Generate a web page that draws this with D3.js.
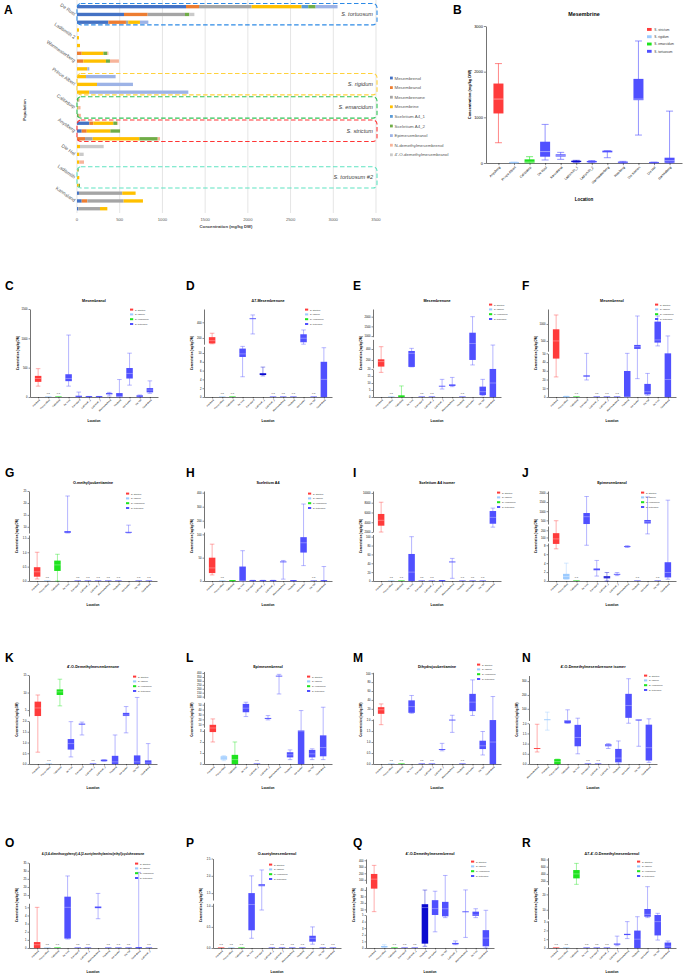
<!DOCTYPE html>
<html>
<head>
<meta charset="utf-8">
<script src="https://d3js.org/d3.v7.min.js"></script>
<style>
body { margin: 0; background: #fff; }
svg { display: block; font-family: "Liberation Sans", Arial, sans-serif; }
</style>
</head>
<body>
<svg id="fig" width="688" height="978"></svg>
<script>
// ---------------- data: panel A (stacked alkaloid profile per sample) ----------------
const compounds = ["Mesembrenol", "Mesembranol", "Mesembrenone", "Mesembrine", "Sceletium A4_1",
    "Sceletium A4_2", "Epimesembranol", "N-demethylmesembrenol", "4'-O-demethylmesembranol"]
const populations = ["De Rust", "Ladismith 2", "Warmwaterberg", "Prince Albert", "Calitzdorp",
    "Anysberg", "Die Hel", "Ladismith", "Kannaland"]
// 3 samples per population, one value per compound (mg/kg DW)
const sample_values = [
    [1276, 152, 616, 585, 78, 86, 257, 0, 0],
    [550, 277, 437, 0, 0, 51, 0, 0, 59],
    [367, 206, 27, 137, 0, 0, 98, 0, 0],
    [0, 0, 0, 23, 0, 0, 0, 0, 0],
    [0, 0, 0, 23, 0, 0, 0, 0, 0],
    [0, 0, 0, 35, 0, 0, 0, 0, 0],
    [0, 55, 0, 254, 0, 47, 0, 12, 0],
    [0, 74, 0, 265, 0, 47, 0, 105, 0],
    [0, 0, 0, 121, 0, 0, 23, 0, 0],
    [0, 0, 0, 105, 0, 0, 347, 0, 0],
    [0, 0, 0, 234, 0, 0, 421, 0, 0],
    [0, 0, 0, 144, 0, 0, 1159, 0, 0],
    [0, 0, 0, 0, 0, 20, 0, 10, 0],
    [0, 0, 0, 8, 0, 8, 0, 25, 0],
    [0, 0, 0, 0, 0, 20, 0, 25, 0],
    [144, 47, 0, 234, 0, 47, 0, 10, 0],
    [55, 59, 0, 277, 0, 113, 0, 0, 0],
    [0, 94, 90, 546, 0, 215, 0, 27, 0],
    [0, 0, 0, 35, 0, 0, 0, 0, 277],
    [0, 0, 0, 27, 0, 0, 0, 0, 51],
    [0, 0, 0, 27, 0, 0, 0, 55, 0],
    [0, 0, 0, 8, 0, 12, 0, 0, 0],
    [0, 0, 0, 27, 0, 0, 0, 0, 0],
    [0, 0, 0, 20, 0, 15, 0, 0, 0],
    [23, 0, 507, 156, 0, 0, 0, 0, 0],
    [55, 66, 425, 226, 0, 0, 0, 0, 0],
    [16, 0, 253, 86, 0, 0, 0, 0, 0],
]
const a_ticks = [0, 500, 1000, 1500, 2000, 2500, 3000, 3500]
// species groups framed in panel A: first sample row + label
const species_groups = [
    {first: 0, name: "S. tortuosum"},
    {first: 9, name: "S. rigidum"},
    {first: 12, name: "S. emarcidum"},
    {first: 15, name: "S. strictum"},
    {first: 21, name: "S. tortuosum #2"},
]

// ---------------- data: box plots (min, q1, median, q3, max; null = n.d) ----------------
const species = ["S. strictum", "S. rigidum", "S. emarcidum", "S. tortuosum"]
const locations = ["Anysberg", "Prince Albert", "Calitzdorp", "De Rust", "Kannaland", "Ladismith_1",
    "Ladismith_2", "Warmwaterberg", "Rooiberg", "Die Koelen", "Die Hel", "Gamkaberg"]
const cats_f = ["Anysberg", "Prince Albert", "Calitzdorp", "Kannaland", "Ladismith_1", "Ladismith_2",
    "Warmwaterberg", "Rooiberg", "Die Koelen", "Die Hel", "De Rust", "Gamkaberg"]
const cats_k = ["Anysberg", "Prince Albert", "Calitzdorp", "De Rust", "Kannaland", "Ladismith_1",
    "Ladismith_2", "Rooiberg", "Die Koelen", "Die Hel", "Gamkaberg"]
const cats_l = ["Anysberg", "Prince Albert", "Calitzdorp", "De Rust", "Ladismith_1", "Ladismith_2",
    "Warmwaterberg", "Rooiberg", "Die Koelen", "Die Hel", "Gamkaberg"]
const cats_n = ["Warmwaterberg", "Anysberg", "Prince Albert", "Calitzdorp", "De Rust", "Kannaland",
    "Ladismith_1", "Ladismith_2", "Rooiberg", "Die Koelen", "Die Hel", "Gamkaberg"]
const cats_o = ["Anysberg", "Prince Albert", "Calitzdorp", "De Rust", "Kannaland", "Ladismith_1",
    "Warmwaterberg", "Rooiberg", "Die Koelen", "Die Hel", "Gamkaberg", "Ladismith_2"]
const cats_q = ["Anysberg", "Prince Albert", "Calitzdorp", "Kannaland", "Ladismith_1", "Rooiberg",
    "Die Koelen", "Die Hel", "Ladismith_2", "Warmwaterberg", "De Rust", "Gamkaberg"]

const boxes_b = [[444, 1085, 1400, 1740, 2177], [0, 3, 8, 15, 20], [0, 5, 20, 80, 138], [66, 138, 250, 466, 845],
    [80, 140, 160, 190, 233], [15, 20, 35, 50, 58], [10, 15, 30, 45, 55], [116, 233, 255, 270, 270],
    [0, 5, 15, 30, 36], [612, 1376, 1400, 1842, 2672], [0, 3, 8, 15, 20], [0, 5, 50, 116, 1136]]
const boxes_c = [[185, 258, 315, 360, 483], null, null, [185, 270, 315, 388, 1056], [0, 2, 10, 22, 84],
    [0, 1, 4, 8, 10], [0, 1, 4, 8, 10], [17, 45, 55, 67, 79], [0, 2, 10, 67, 298], [202, 315, 400, 494, 747],
    [0, 3, 10, 28, 34], [62, 79, 118, 152, 275]]
const boxes_d = [[125, 130, 165, 210, 260], null, null, [4.6, 9.1, 9.8, 11, 11.5], [251, 440, 447, 450, 494],
    [4.8, 5.0, 5.2, 5.4, 6.8], null, null, null, [120, 145, 196, 247, 302], null, [0, 0, 4, 8, 11.2]]
const boxes_e = [[17.6, 79, 170, 212, 442], null, [0, 0, 0.5, 1.2, 7.9], [73, 73, 321, 364, 412], null, null,
    [5.7, 7.4, 7.6, 7.9, 12.6], [7.4, 7.9, 8.3, 9, 14], null, [109, 200, 500, 1172, 2000],
    [0.9, 1.4, 3.8, 7.4, 12.6], [0, 0, 10, 22, 472]]
const boxes_f = [[23, 44, 500, 843, 1265], [0, 0, 0.3, 0.6, 1], null, [19.5, 23.3, 24, 24.8, 50], null, null, null,
    [0, 0, 0, 29.8, 50], [21, 264, 330, 382, 1235], [2, 3, 6, 15, 27], [353, 451, 530, 1069, 1235], [0, 0, 20, 50, 647]]
const boxes_g = [[0.07, 0.15, 0.32, 0.48, 1.0], null, [0, 0.35, 0.56, 0.71, 0.93], [7.4, 7.5, 7.8, 8.2, 22.9],
    null, null, null, null, null, [7.4, 7.5, 7.7, 7.9, 10.7], null, null]
const boxes_h = [[13, 17, 28, 50, 79], null, [0, 0, 0.5, 1, 1], [0, 0, 0, 31, 65], [0, 0, 0.5, 1.5, 1.5],
    [0, 0, 0.5, 1.5, 1.5], [0, 0, 0.5, 1.5, 1.5], [4, 40, 41, 41, 44], [0, 0, 0.5, 1, 1], [33, 61, 82, 94, 319],
    null, [0, 0, 0, 0.5, 31]]
const boxes_i = [[2000, 3300, 4400, 5700, 8100], null, null, [0, 0, 20, 61, 100], null, null, [0, 0, 0.5, 1, 1],
    [6, 42, 43, 44, 51], null, null, null, [3000, 3700, 5000, 6300, 6900]]
const boxes_j = [[7.2, 8.3, 80, 160, 480], [0.4, 0.4, 1, 1.6, 4], null, [8, 300, 700, 900, 1800],
    [1.1, 2.4, 2.6, 2.8, 4.6], [0, 0.6, 0.9, 1.1, 1.9], [1.2, 1.4, 1.5, 1.6, 1.9], [7.5, 7.6, 7.7, 7.8, 7.9],
    null, [150, 330, 420, 520, 1780], null, [0.4, 0.8, 1.9, 4.2, 1600]]
const boxes_k = [[0.55, 3.3, 5.6, 7.4, 9.3], null, [6.2, 9.3, 10.2, 10.9, 13.8], [0.33, 0.67, 0.95, 1.16, 1.97],
    [1.35, 1.83, 1.85, 1.88, 1.95], null, [0.13, 0.13, 0.16, 0.2, 0.2], [0, 0, 0.1, 0.38, 1.35],
    [1.45, 3.3, 3.6, 4.2, 6.0], [0, 0, 0.1, 0.4, 8.6], [0, 0, 0.05, 0.17, 0.95]]
const boxes_l = [[2.0, 2.9, 3.6, 9, 21], [0.3, 0.4, 0.55, 0.7, 0.76], [0, 0, 0.4, 0.83, 2.0], [25.8, 34.6, 42.8, 51.6, 55],
    null, [19, 21, 22, 23, 27.8], [134, 355, 357, 359, 383], [0.4, 0.6, 0.83, 1.07, 1.28], [0, 0, 3.0, 3.05, 38],
    [0.4, 0.6, 0.92, 1.28, 1.38], [0.4, 0.7, 1.5, 2.6, 44.8]]
const boxes_m = [[1.79, 8.8, 17.8, 23.7, 31], null, null, [10, 11, 25, 39, 50], null, null,
    [0.6, 0.64, 0.66, 0.68, 0.94], [1.44, 1.98, 2.0, 2.02, 5.5], null, [5, 14.8, 35, 53.6, 85],
    [0.41, 0.68, 0.83, 1.06, 1.48], [0, 0, 1, 2.0, 47.6]]
const boxes_n = [[0.59, 0.74, 0.76, 0.78, 1.95], [1.66, 18, 20, 22, 76], [0, 0, 0.12, 0.24, 0.24], [2.0, 2.0, 17, 18, 93],
    [0.5, 0.87, 1.3, 1.92, 32.5], null, null, [0.76, 0.87, 0.92, 0.97, 1.0], [0, 0.08, 0.29, 0.74, 1.13],
    [2.0, 35, 124, 208, 317], [0.87, 16.2, 16.5, 17, 18], [0.08, 0.17, 0.8, 1.93, 28]]
const boxes_o = [[0, 0, 0.4, 0.73, 5.0], null, null, [1.1, 1.16, 5, 14, 26.8], null, null, [3.6, 4.9, 5, 5.1, 16],
    null, null, null, [0, 0, 0.05, 0.1, 29], null]
const boxes_p = [null, null, null, [0.23, 0.42, 1.03, 1.5, 2.0], [0.9, 1.7, 1.73, 1.76, 2.17], null, null, null, null,
    [0.09, 0.15, 0.23, 0.29, 0.5], null, null]
const boxes_q = [[6.5, 42, 110, 190, 322], [0.1, 0.1, 0.2, 0.3, 0.5], null, null, null, [0.26, 0.66, 12.8, 18, 39.8],
    [2.45, 5, 11.2, 24.2, 38], [4.6, 4.8, 11, 21.6, 167], [0.5, 0.56, 0.65, 0.77, 1.07], [1.6, 5.6, 5.8, 6, 40],
    [4.6, 4.85, 5.0, 6.5, 11], [0, 0.26, 1.5, 2.7, 8.6]]
const boxes_r = [null, null, [110, 276, 400, 507, 692], null, null, null, [0.26, 0.37, 0.45, 0.51, 1.35],
    [1.07, 1.47, 1.55, 1.61, 3.0], [0, 0, 1, 1.98, 5.5], [4.9, 5.5, 7, 10.5, 25], [0.9, 1.43, 3.0, 6.6, 7.7],
    [0, 0, 0.2, 0.62, 0.8]]

// broken y axes: value range d, share of axis height f, tick labels t
const segs_b = [{d: [0, 3000], f: [0, 1], t: [0, 1000, 2000, 3000]}]
const segs_c = [{d: [0, 1500], f: [0, 1], t: [0, 500, 1000, 1500]}]
const segs_d = [{d: [0, 11.5], f: [0, 0.575], t: [0, 2, 4, 6, 8, 10]}, {d: [120, 570], f: [0.6, 1], t: [200, 400]}]
const segs_e = [{d: [0, 20], f: [0, 0.318], t: [0, 5, 10, 15, 20]}, {d: [54, 576], f: [0.33, 0.655], t: [200, 400]},
    {d: [965, 2397], f: [0.685, 1], t: [1000, 1500, 2000]}]
const segs_f = [{d: [0, 50], f: [0, 0.496], t: [0, 10, 20, 30, 40, 50]}, {d: [196, 1441], f: [0.52, 1], t: [500, 1000]}]
const segs_g = [{d: [0, 1.6], f: [0, 0.511], t: [0, 0.5, 1, 1.5]}, {d: [7.4, 25], f: [0.533, 1], t: [10, 15, 20, 25]}]
const segs_h = [{d: [0, 105], f: [0, 0.544], t: [0, 50, 100]}, {d: [148, 412], f: [0.589, 1], t: [200, 300, 400]}]
const segs_i = [{d: [0, 105], f: [0, 0.517], t: [0, 20, 40, 60, 80, 100]},
    {d: [2000, 10400], f: [0.544, 1], t: [2000, 4000, 6000, 8000, 10000]}]
const segs_j = [{d: [0, 8.5], f: [0, 0.422], t: [0, 2, 4, 6, 8]}, {d: [50, 260], f: [0.444, 0.611], t: [100, 200]},
    {d: [300, 2100], f: [0.633, 1], t: [500, 1000, 1500, 2000]}]
const segs_k = [{d: [0, 2.0], f: [0, 0.483], t: [0, 0.5, 1, 1.5, 2]}, {d: [3.3, 15], f: [0.539, 1], t: [5, 10, 15]}]
const segs_l = [{d: [0, 3.2], f: [0, 0.396], t: [0, 1, 2, 3]}, {d: [4, 55], f: [0.413, 0.694], t: [10, 20, 30, 40, 50]},
    {d: [80, 420], f: [0.739, 1.04], t: [100, 150, 200, 250, 300, 350, 400]}]
const segs_m = [{d: [0, 2.05], f: [0, 0.506], t: [0, 0.5, 1, 1.5, 2]}, {d: [5, 102], f: [0.545, 1.03], t: [20, 40, 60, 80, 100]}]
const segs_n = [{d: [0, 2.0], f: [0, 0.458], t: [0, 0.5, 1, 1.5, 2]}, {d: [16, 340], f: [0.489, 0.994], t: [100, 200, 300]}]
const segs_o = [{d: [0, 5.5], f: [0, 0.52], t: [0, 1, 2, 3, 4, 5]}, {d: [13, 35], f: [0.578, 0.992], t: [15, 20, 25, 30, 35]}]
const segs_p = [{d: [0, 1.06], f: [0, 0.52], t: [0, 0.5, 1]}, {d: [1.3, 2.5], f: [0.558, 1.04], t: [1.5, 2, 2.5]}]
const segs_q = [{d: [0, 5], f: [0, 0.384], t: [0, 1, 2, 3, 4, 5]}, {d: [5.5, 45], f: [0.415, 0.713], t: [10, 20, 30, 40]},
    {d: [46, 420], f: [0.752, 1.035], t: [100, 200, 300, 400]}]
const segs_r = [{d: [0, 3.1], f: [0, 0.317], t: [0, 1, 2, 3]}, {d: [4, 25], f: [0.337, 0.713], t: [10, 20]},
    {d: [100, 850], f: [0.736, 1.05], t: [200, 400, 600, 800]}]

// ---------------- styles ----------------
const compound_colors = ["#4472c4", "#ed7d31", "#a5a5a5", "#ffc000", "#5b9bd5", "#70ad47", "#9db3e6", "#f7b49a", "#cacaca"]
const group_colors = ["#2d8ae6", "#ffd23c", "#2fc456", "#ff3535", "#5fe3c1"]
const species_colors = ["#ff3b3b", "#9ccbff", "#1ee31e", "#5050ff"]
const navy = "#0a0ad0"
const row_bands = [[309, 397], [491, 581], [675, 764], [862, 948]]
const letter_x = [5, 186, 353, 522]
const letter_y = [290, 477, 662, 847]

const svg = d3.select("#fig")

function letter(txt, x, y) {
    svg.append("text").attr("x", x).attr("y", y).attr("font-size", 12).attr("font-weight", "bold").text(txt)
}

// ---------------- panel A ----------------
function draw_panel_a() {
    const g = svg.append("g")
    const x = d3.scaleLinear().domain([0, 3500]).range([77, 376])
    const y = d3.scaleBand().domain(d3.range(sample_values.length)).range([2.8, 212.6])
        .paddingInner(0.57).paddingOuter(0.285)

    // gridlines + ticks
    g.append("g").selectAll("line").data(a_ticks).join("line")
        .attr("x1", d => x(d)).attr("x2", d => x(d)).attr("y1", 0).attr("y2", 213)
        .attr("stroke", "#d9d9d9").attr("stroke-width", 0.7)
    g.append("g").selectAll("text").data(a_ticks).join("text")
        .attr("x", d => x(d)).attr("y", 220.5).attr("text-anchor", "middle")
        .attr("font-size", 4.2).attr("fill", "#595959").text(d => d)

    // stacked bars
    const stack = d3.stack().keys(d3.range(compounds.length))(sample_values)
    g.append("g").selectAll("g").data(stack).join("g").attr("fill", (d, i) => compound_colors[i])
        .selectAll("rect").data(d => d.map((v, i) => ({v, i}))).join("rect")
        .attr("x", d => x(d.v[0])).attr("width", d => Math.max(0, x(d.v[1]) - x(d.v[0])))
        .attr("y", d => y(d.i)).attr("height", y.bandwidth())

    // population labels, one per group of 3
    g.append("g").selectAll("text").data(populations).join("text")
        .attr("transform", (d, i) => `translate(74,${y(i * 3 + 1) + y.bandwidth() / 2 + 1.2}) rotate(35)`)
        .attr("text-anchor", "end").attr("font-size", 4.8).attr("fill", "#595959").text(d => d)

    // dashed species frames
    species_groups.forEach((s, k) => {
        const y0 = y(s.first) - 1.5, y1 = y(s.first + 2) + y.bandwidth() + 1
        g.append("rect").attr("x", 77).attr("y", y0).attr("width", 300).attr("height", y1 - y0)
            .attr("rx", 4).attr("fill", "none").attr("stroke", group_colors[k])
            .attr("stroke-width", 1.1).attr("stroke-dasharray", "4.5,2.5")
        g.append("text").attr("x", 373).attr("y", (y0 + y1) / 2 + 2).attr("text-anchor", "end")
            .attr("font-size", 5.6).attr("font-style", "italic").attr("fill", "#404040").text(s.name)
    })

    g.append("text").attr("x", 226).attr("y", 228).attr("text-anchor", "middle")
        .attr("font-size", 4.2).attr("font-weight", "bold").attr("fill", "#404040").text("Concentration (mg/kg DW)")
    g.append("text").attr("transform", "translate(26,110) rotate(-90)").attr("text-anchor", "middle")
        .attr("font-size", 4.2).attr("font-weight", "bold").attr("fill", "#404040").text("Population")

    // legend
    const lg = g.append("g").selectAll("g").data(compounds).join("g")
        .attr("transform", (d, i) => `translate(390,${79 + i * 9.6})`)
    lg.append("rect").attr("x", 0).attr("y", -2.4).attr("width", 2.8).attr("height", 2.8)
        .attr("fill", (d, i) => compound_colors[i])
    lg.append("text").attr("x", 4.5).attr("y", 0.5).attr("font-size", 4.4).attr("fill", "#595959").text(d => d)
}

// ---------------- box plot panels ----------------
function draw_box_panel(p) {
    const top = p.top ?? row_bands[p.row][0]
    const bottom = p.bottom ?? row_bands[p.row][1]
    const w = p.w ?? 128, fs = p.fs ?? 1, bw = p.bw ?? 6.5
    const h = bottom - top
    const g = svg.append("g")

    // piecewise scale through all segments of the broken axis
    const dom = [], rng = []
    p.segs.forEach(s => {
        dom.push(s.d[0], s.d[1])
        rng.push(bottom - s.f[0] * h, bottom - s.f[1] * h)
    })
    const y = d3.scaleLinear().domain(dom).range(rng).clamp(true)
    const x = d3.scalePoint().domain(p.cats).range([p.x0, p.x0 + w]).padding(0.8)

    p.segs.forEach(s => {
        const ys = d3.scaleLinear().domain(s.d).range([y(s.d[0]), y(s.d[1])])
        const fmt = s.t.some(v => v % 1) ? d3.format(".1f") : d3.format("d")
        const ax = g.append("g").attr("transform", `translate(${p.x0},0)`)
            .call(d3.axisLeft(ys).tickValues(s.t).tickSize(1.5 * fs).tickSizeOuter(0).tickPadding(1).tickFormat(fmt))
        ax.attr("font-size", 2.7 * fs).attr("font-family", null)
        ax.select(".domain").attr("stroke-width", 0.55)
        ax.selectAll(".tick line").attr("stroke-width", 0.45)
    })

    const xa = g.append("g").attr("transform", `translate(0,${bottom})`)
        .call(d3.axisBottom(x).tickSize(1.5 * fs).tickSizeOuter(0))
    xa.attr("font-size", 2.3 * fs).attr("font-family", null)
    xa.select(".domain").attr("stroke-width", 0.55)
    xa.selectAll(".tick line").attr("stroke-width", 0.45)
    xa.selectAll(".tick text").attr("y", 0).attr("dy", "0.35em")
        .attr("transform", `translate(0.8,${2.6 * fs}) rotate(-45)`).attr("text-anchor", "end")

    // boxes
    p.boxes.forEach((b, i) => {
        const cx = x(p.cats[i])
        const col = (p.dark || []).includes(i) ? navy : species_colors[Math.min(i, 3)]
        if (!b) {
            g.append("rect").attr("x", cx - bw / 2).attr("y", bottom - 0.9).attr("width", bw).attr("height", 0.9)
                .attr("fill", col).attr("opacity", 0.6)
            g.append("text").attr("x", cx).attr("y", bottom - 3.2).attr("text-anchor", "middle")
                .attr("font-size", 2.3 * fs).attr("fill", "#333").text("n.d")
            return
        }
        const [mn, q1, md, q3, mx] = b.map(v => y(v))
        const wh = g.append("g").attr("stroke", col).attr("stroke-opacity", 0.6).attr("stroke-width", 0.7 * fs)
        wh.append("line").attr("x1", cx).attr("x2", cx).attr("y1", mn).attr("y2", mx)
        wh.append("line").attr("x1", cx - bw * 0.35).attr("x2", cx + bw * 0.35).attr("y1", mx).attr("y2", mx)
        wh.append("line").attr("x1", cx - bw * 0.35).attr("x2", cx + bw * 0.35).attr("y1", mn).attr("y2", mn)
        const bh = Math.max(0.9, q1 - q3)
        g.append("rect").attr("x", cx - bw / 2).attr("y", Math.min(q3, q1 - bh)).attr("width", bw).attr("height", bh)
            .attr("fill", col)
        if (q1 - q3 > 2) {
            g.append("line").attr("x1", cx - bw / 2).attr("x2", cx + bw / 2).attr("y1", md).attr("y2", md)
                .attr("stroke", "#fff").attr("stroke-opacity", 0.55).attr("stroke-width", 0.6 * fs)
        }
    })

    // titles
    g.append("text").attr("x", p.x0 + w / 2).attr("y", top - 7 * fs).attr("text-anchor", "middle")
        .attr("font-size", (p.title.length > 40 ? 3.1 : 3.7) * fs).attr("font-weight", "bold").text(p.title)
    g.append("text").attr("x", p.x0 + w / 2).attr("y", bottom + (p.loc_dy ?? 25)).attr("text-anchor", "middle")
        .attr("font-size", 3.1 * fs).attr("font-weight", "bold").text("Location")
    g.append("text").attr("transform", `translate(${p.x0 - (p.yt_dx ?? 11)},${(top + bottom) / 2}) rotate(-90)`)
        .attr("text-anchor", "middle").attr("font-size", 2.7 * fs).attr("font-weight", "bold")
        .text("Concentration (mg/kg DW)")

    // legend
    const step = p.leg_step ?? 4.8
    species.forEach((s, k) => {
        g.append("rect").attr("x", p.leg[0]).attr("y", p.leg[1] + k * step - 1.4 * fs)
            .attr("width", 3.2 * fs).attr("height", 2 * fs).attr("fill", species_colors[k])
        g.append("text").attr("x", p.leg[0] + 5 * fs).attr("y", p.leg[1] + k * step + 0.6 * fs)
            .attr("font-size", 2.2 * fs).attr("fill", "#333").text(s)
    })

    if (p.id) letter(p.id, letter_x[p.col], letter_y[p.row])
}

draw_panel_a()
letter("A", 4, 13.5)
letter("B", 453, 13.5)

draw_box_panel({title: "Mesembrine", cats: locations, boxes: boxes_b, segs: segs_b, x0: 486, w: 196,
    top: 26, bottom: 163, fs: 1.45, bw: 10, loc_dy: 38, yt_dx: 15, leg: [647, 30], leg_step: 7.3, dark: [5]})

const panels = [
    {id: "C", title: "Mesembranol", cats: locations, boxes: boxes_c, segs: segs_c, x0: 30, row: 0, col: 0, leg: [130, 310]},
    {id: "D", title: "Δ7-Mesembrenone", cats: locations, boxes: boxes_d, segs: segs_d, x0: 204, row: 0, col: 1, leg: [305, 310], dark: [5]},
    {id: "E", title: "Mesembrenone", cats: locations, boxes: boxes_e, segs: segs_e, x0: 373, row: 0, col: 2, leg: [489, 305]},
    {id: "F", title: "Mesembrenol", cats: cats_f, boxes: boxes_f, segs: segs_f, x0: 548, row: 0, col: 3, leg: [655, 305]},
    {id: "G", title: "O-methyljoubertiamine", cats: locations, boxes: boxes_g, segs: segs_g, x0: 29, row: 1, col: 0, leg: [126, 494]},
    {id: "H", title: "Sceletium A4", cats: locations, boxes: boxes_h, segs: segs_h, x0: 204, row: 1, col: 1, leg: [308, 494]},
    {id: "I", title: "Sceletium A4 isomer", cats: locations, boxes: boxes_i, segs: segs_i, x0: 373, row: 1, col: 2, leg: [497, 493]},
    {id: "J", title: "Epimesembranol", cats: locations, boxes: boxes_j, segs: segs_j, x0: 548, row: 1, col: 3, leg: [641, 493], dark: [5]},
    {id: "K", title: "4'-O-Demethylmesembrenone", cats: cats_k, boxes: boxes_k, segs: segs_k, x0: 29, row: 2, col: 0, leg: [133, 677]},
    {id: "L", title: "Epimesembrenol", cats: cats_l, boxes: boxes_l, segs: segs_l, x0: 204, row: 2, col: 1, leg: [307, 677]},
    {id: "M", title: "Dihydrojoubertiamine", cats: locations, boxes: boxes_m, segs: segs_m, x0: 373, row: 2, col: 2, leg: [477, 665]},
    {id: "N", title: "4'-O-Demethylmesembrenone isomer", cats: cats_n, boxes: boxes_n, segs: segs_n, x0: 529, row: 2, col: 3, leg: [644, 676]},
    {id: "O", title: "4-(3,4-dimethoxyphenyl)-4-[2-acetylmethylamino)ethyl]cyclohexanone", cats: cats_o, boxes: boxes_o, segs: segs_o, x0: 29, row: 3, col: 0, leg: [135, 864]},
    {id: "P", title: "O-acetylmesembrenol", cats: locations, boxes: boxes_p, segs: segs_p, x0: 213, row: 3, col: 1, leg: [269, 865]},
    {id: "Q", title: "4'-O-Demethylmesembrenol", cats: cats_q, boxes: boxes_q, segs: segs_q, x0: 366, row: 3, col: 2, leg: [471, 862], dark: [5]},
    {id: "R", title: "Δ7-4'-O-Demethylmesembrenol", cats: locations, boxes: boxes_r, segs: segs_r, x0: 548, row: 3, col: 3, leg: [637, 862]},
]
panels.forEach(draw_box_panel)
</script>
</body>
</html>
